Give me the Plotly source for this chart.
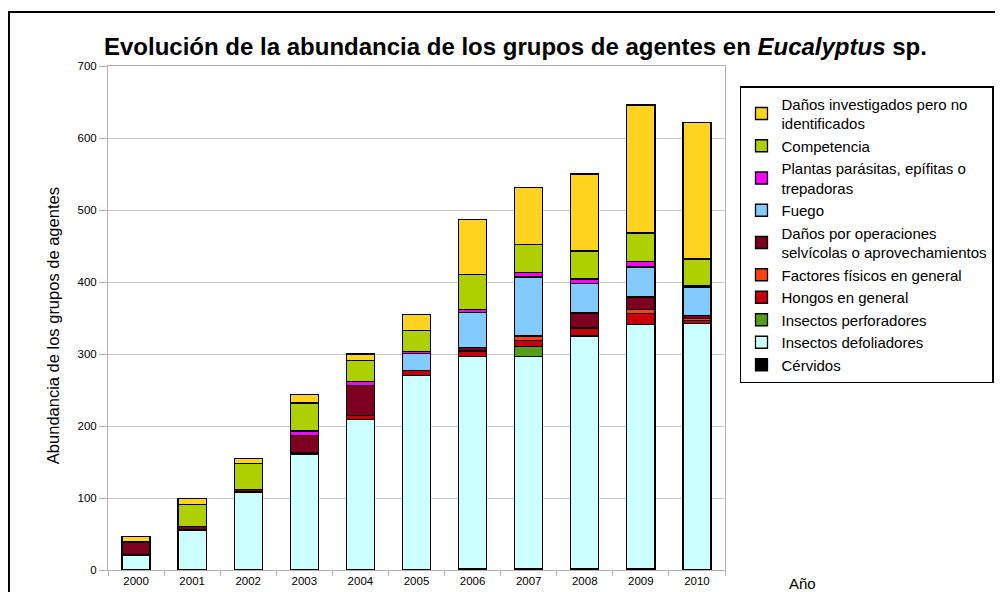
import plotly.graph_objects as go

years = ["2000", "2001", "2002", "2003", "2004", "2005", "2006", "2007", "2008", "2009", "2010"]

cervidos = [0, 0, 0, 0, 0, 0, 2, 2, 2, 2, 0]
insectos_defoliadores = [21, 55, 108, 160, 209, 270, 295, 295, 323, 339, 342]
insectos_perforadores = [0, 0, 0, 0, 0, 0, 0, 13, 0, 0, 0]
hongos = [0, 1, 1, 1, 6, 7, 7, 9, 10, 15, 5]
factores_fisicos = [0, 0, 0, 2, 0, 0, 0, 6, 1, 6, 2]
operaciones = [17, 4, 3, 24, 41, 0, 5, 1, 21, 17, 4]
fuego = [2, 0, 0, 0, 0, 24, 49, 81, 41, 42, 40]
plantas = [0, 0, 0, 6, 6, 2, 4, 6, 6, 7, 2]
competencia = [0, 31, 36, 39, 29, 30, 48, 39, 39, 40, 37]
no_identificados = [7, 8, 7, 12, 9, 22, 77, 79, 107, 178, 190]

series = [
    ("Cérvidos", cervidos, "#000000"),
    ("Insectos defoliadores", insectos_defoliadores, "#ccffff"),
    ("Insectos perforadores", insectos_perforadores, "#579d1c"),
    ("Hongos en general", hongos, "#c5000b"),
    ("Factores físicos en general", factores_fisicos, "#ff420e"),
    ("Daños por operaciones<br>selvícolas o aprovechamientos", operaciones, "#7e0021"),
    ("Fuego", fuego, "#83caff"),
    ("Plantas parásitas, epífitas o<br>trepadoras", plantas, "#ff00ff"),
    ("Competencia", competencia, "#aecf00"),
    ("Daños investigados pero no<br>identificados", no_identificados, "#ffd320"),
]

fig = go.Figure()
for name, vals, col in series:
    fig.add_trace(go.Bar(
        x=years, y=vals, name=name,
        marker=dict(color=col, line=dict(color="#000000", width=1.3)),
    ))

FONT = "Liberation Sans, Arial, sans-serif"

fig.update_layout(
    barmode="stack",
    bargap=0.5,
    width=1003, height=592,
    margin=dict(l=100, r=286, t=58, b=30, autoexpand=False),
    paper_bgcolor="white",
    plot_bgcolor="white",
    font=dict(family=FONT, size=11.5, color="#000000"),
    showlegend=True,
    legend=dict(
        x=1.0243, y=0.9603, xanchor="left", yanchor="top",
        traceorder="reversed",
        bordercolor="#000000", borderwidth=1.5,
        bgcolor="white",
        font=dict(family=FONT, size=15, color="#000000"),
        itemwidth=30,
        tracegroupgap=0,
    ),
    xaxis=dict(
        type="category",
        showgrid=False,
        showline=True, linecolor="#b3b3b3", linewidth=1, mirror=True,
        ticks="outside", tickson="boundaries", ticklen=5, tickcolor="#b3b3b3",
        tickfont=dict(size=11.5, color="#000000"),
        automargin=False,
    ),
    yaxis=dict(
        range=[0, 700], dtick=100,
        showgrid=True, gridcolor="#c8c8c8", gridwidth=1,
        showline=True, linecolor="#b3b3b3", linewidth=1, mirror=True,
        ticks="outside", ticklen=8, tickcolor="#b3b3b3",
        tickfont=dict(size=11.5, color="#000000"),
        zeroline=False,
        automargin=False,
    ),
    annotations=[
        dict(text="<b>Evolución de la abundancia de los grupos de agentes en <i>Eucalyptus</i> sp.</b>",
             xref="paper", yref="paper", x=0.661, y=1.0377, xanchor="center", yanchor="middle",
             showarrow=False, font=dict(family=FONT, size=24, color="#000000")),
        dict(text="Abundancia de los grupos de agentes",
             xref="paper", yref="paper", x=-0.089, y=0.484, xanchor="center", yanchor="middle",
             textangle=-90, showarrow=False, font=dict(family=FONT, size=16.5, color="#000000")),
        dict(text="Año",
             xref="paper", yref="paper", x=1.126, y=-0.026, xanchor="center", yanchor="middle",
             showarrow=False, font=dict(family=FONT, size=15, color="#000000")),
    ],
    shapes=[
        dict(type="rect", xref="paper", yref="paper",
             x0=-0.1605, x1=1.6, y0=-0.2, y1=1.1071,
             line=dict(color="#000000", width=2), fillcolor="rgba(0,0,0,0)", layer="below"),
    ],
)

fig.write_html("out.html")
